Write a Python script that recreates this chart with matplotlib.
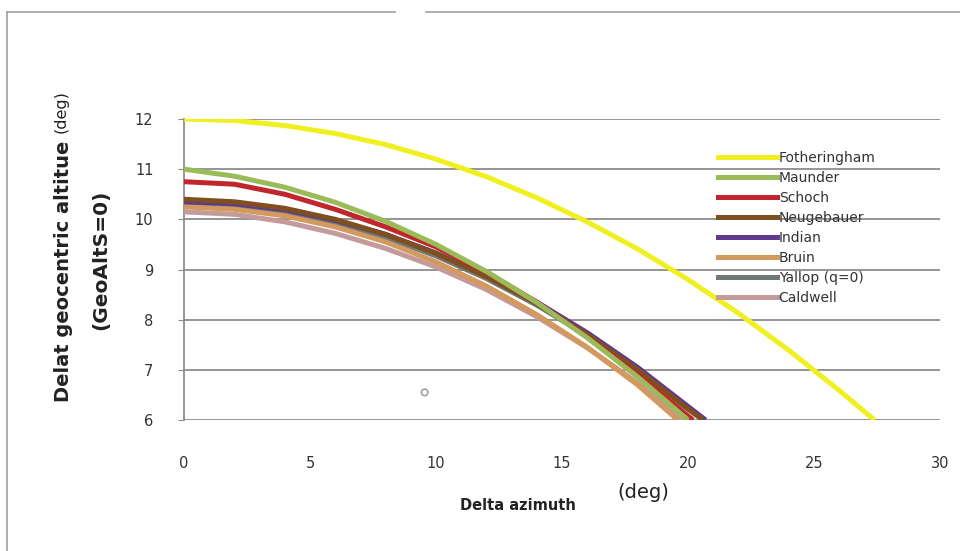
import matplotlib
matplotlib.use("Agg")
import matplotlib.pyplot as plt
from matplotlib.lines import Line2D

# ---- data ----
series_names = ["Fotheringham", "Maunder", "Schoch", "Neugebauer",
                "Indian", "Bruin", "Yallop (q=0)", "Caldwell"]
series_colors = ["#F0F020", "#9BBB59", "#C0262C", "#7F4F1F",
                 "#5F3A8F", "#D4995C", "#707A74", "#C49A9A"]

fotheringham_x = [0, 2, 4, 6, 8, 10, 12, 14, 16, 18, 20, 22, 24, 26, 27.4]
fotheringham_y = [12.0, 11.97, 11.87, 11.71, 11.49, 11.2, 10.85, 10.43, 9.95,
                  9.41, 8.8, 8.13, 7.39, 6.59, 6.0]

maunder_x = [0, 2, 4, 6, 8, 10, 12, 14, 16, 18, 20]
maunder_y = [11.0, 10.86, 10.64, 10.34, 9.96, 9.5, 8.96, 8.34, 7.64, 6.86, 6.0]

schoch_x = [0, 2, 4, 6, 8, 10, 12, 14, 16, 18, 20, 20.2]
schoch_y = [10.75, 10.7, 10.5, 10.2, 9.85, 9.45, 8.95, 8.35, 7.65, 6.9, 6.08, 6.0]

neugebauer_x = [0, 2, 4, 6, 8, 10, 12, 14, 16, 18, 20, 20.6]
neugebauer_y = [10.4, 10.35, 10.22, 10.0, 9.7, 9.32, 8.86, 8.32, 7.7, 7.0, 6.22, 6.0]

indian_x = [0, 2, 4, 6, 8, 10, 12, 14, 16, 18, 20, 20.7]
indian_y = [10.35, 10.31, 10.19, 9.98, 9.7, 9.33, 8.88, 8.35, 7.74, 7.05, 6.27, 6.0]

bruin_x = [0, 2, 4, 6, 8, 10, 12, 14, 16, 18, 19.6]
bruin_y = [10.25, 10.2, 10.07, 9.85, 9.55, 9.15, 8.67, 8.1, 7.45, 6.7, 6.0]

yallop_x = [0, 2, 4, 6, 8, 10, 12, 14, 16, 18, 20, 20.6]
yallop_y = [10.3, 10.26, 10.14, 9.93, 9.64, 9.27, 8.82, 8.29, 7.68, 6.99, 6.22, 6.0]

caldwell_x = [0, 2, 4, 6, 8, 10, 12, 14, 16, 18, 19.8]
caldwell_y = [10.15, 10.1, 9.95, 9.72, 9.42, 9.05, 8.6, 8.06, 7.44, 6.74, 6.0]

stray_point_x = [9.55]
stray_point_y = [6.55]

x_ticks = [0, 5, 10, 15, 20, 25, 30]
y_ticks = [6, 7, 8, 9, 10, 11, 12]

all_x = [fotheringham_x, maunder_x, schoch_x, neugebauer_x,
         indian_x, bruin_x, yallop_x, caldwell_x]
all_y = [fotheringham_y, maunder_y, schoch_y, neugebauer_y,
         indian_y, bruin_y, yallop_y, caldwell_y]

# ---- figure ----
fig = plt.figure(figsize=(9.6, 5.51), dpi=100)
fig.patch.set_facecolor("white")
ax = fig.add_axes([184 / 960, 1 - 420 / 551, (940 - 184) / 960, (420 - 119) / 551])

ax.set_xlim(0, 30)
ax.set_ylim(6, 12)

# gridlines
for yv in y_ticks:
    ax.axhline(yv, color="#8C8C8C", lw=1.3, zorder=1)

order = [7, 5, 6, 3, 4, 2, 1, 0]
for i in order:
    ax.plot(all_x[i], all_y[i], color=series_colors[i], lw=3.6,
            solid_capstyle="butt", solid_joinstyle="round",
            zorder=3 + (7 - i) * 0.01, clip_on=True)

ax.scatter(stray_point_x, stray_point_y, s=22, facecolors="none",
           edgecolors="#A0A0A0", linewidths=1.2, zorder=4)

for s in ["top", "right", "bottom"]:
    ax.spines[s].set_visible(False)
ax.spines["left"].set_color("#8C8C8C")
ax.spines["left"].set_linewidth(1.3)

ax.set_xticks(x_ticks)
ax.set_yticks(y_ticks)
ax.tick_params(axis="x", length=0, pad=26, labelsize=10.5, labelcolor="#333333")
ax.tick_params(axis="y", length=4, color="#8C8C8C", pad=18, labelsize=10.5,
               labelcolor="#333333")

# legend
handles = [Line2D([0], [0], color=c, lw=3.6) for c in series_colors]
leg = ax.legend(handles, series_names, loc="upper left",
                bbox_to_anchor=((712 - 184) / 756, 1 - (145 - 119) / 301),
                frameon=False, fontsize=10, handlelength=4.3,
                handletextpad=0.1, labelspacing=0.44, borderaxespad=0)
for t in leg.get_texts():
    t.set_color("#333333")

# axis titles
fig.text(518 / 960, 1 - 506 / 551, "Delta azimuth", ha="center", va="center",
         fontsize=10.5, fontweight="bold", color="#222222")
fig.text(643 / 960, 1 - 492 / 551, "(deg)", ha="center", va="center",
         fontsize=14, color="#222222")

fig.text(64 / 960, 1 - 271 / 551, "Delat geocentric altitue", rotation=90,
         ha="center", va="center", fontsize=14, fontweight="bold", color="#222222")
fig.text(61 / 960, 1 - 112 / 551, "(deg)", rotation=90,
         ha="center", va="center", fontsize=11.5, color="#222222")
fig.text(101 / 960, 1 - 260 / 551, "(GeoAltS=0)", rotation=90,
         ha="center", va="center", fontsize=14.5, fontweight="bold", color="#222222")

# figure frame (partial border like the reference)
border_color = "#A8A8A8"
fig.add_artist(Line2D([7 / 960, 7 / 960], [0, 1 - 12 / 551],
                      transform=fig.transFigure, color=border_color, lw=1.3))
fig.add_artist(Line2D([7 / 960, 395 / 960], [1 - 12 / 551, 1 - 12 / 551],
                      transform=fig.transFigure, color=border_color, lw=1.3))
fig.add_artist(Line2D([426 / 960, 1], [1 - 12 / 551, 1 - 12 / 551],
                      transform=fig.transFigure, color=border_color, lw=1.3))

fig.savefig("out.png", dpi=100, facecolor="white")
